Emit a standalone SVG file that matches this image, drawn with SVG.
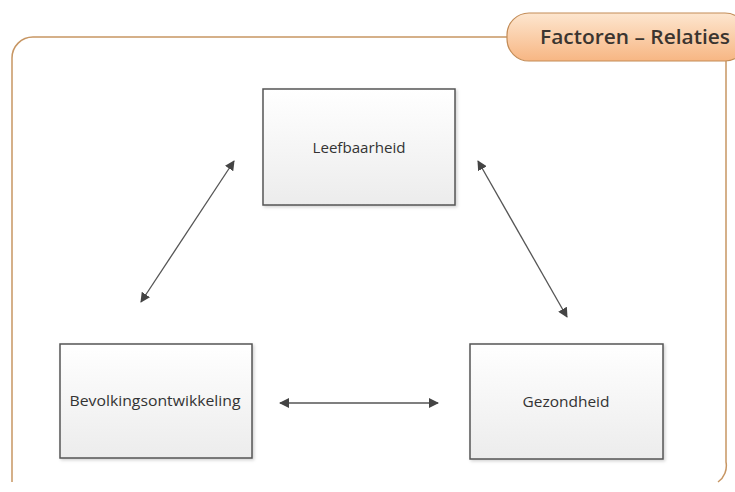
<svg xmlns="http://www.w3.org/2000/svg" width="735" height="492" viewBox="0 0 735 492">
<defs>
<linearGradient id="boxg" x1="0" y1="0" x2="0" y2="1">
<stop offset="0" stop-color="#ffffff"/>
<stop offset="1" stop-color="#ececec"/>
</linearGradient>
<linearGradient id="tabg" x1="0" y1="0" x2="0" y2="1">
<stop offset="0" stop-color="#fde6cf"/>
<stop offset="1" stop-color="#f7b683"/>
</linearGradient>
<marker id="ah" viewBox="0 0 10 10" refX="9" refY="5" markerWidth="10" markerHeight="10" markerUnits="userSpaceOnUse" orient="auto-start-reverse">
<path d="M0,0 L10,5 L0,10 Z" fill="#444"/>
</marker>
<filter id="sh" x="-10%" y="-10%" width="125%" height="125%">
<feDropShadow dx="1.5" dy="1.5" stdDeviation="1.5" flood-color="#000" flood-opacity="0.18"/>
</filter>
</defs>
<style>
.box{fill:url(#boxg);stroke:#555;stroke-width:1.5;filter:url(#sh)}
.lbl{font-family:"Open Sans","Liberation Sans",sans-serif;font-size:15px;fill:#333;text-anchor:middle}
.con{stroke:#555;stroke-width:1.3;fill:none;marker-start:url(#ah);marker-end:url(#ah)}
</style>
<rect width="735" height="492" fill="#fff"/>
<g id="frame">
<path d="M507,37 H33 A21,21 0 0 0 12,58 V482" fill="none" stroke="#c79663" stroke-width="1.5"/>
<path d="M726,61 V462 A20,20 0 0 1 718,482" fill="none" stroke="#c79663" stroke-width="1.5"/>
</g>
<g id="title">
<rect x="507" y="13" width="240" height="48" rx="22" fill="url(#tabg)" stroke="#c38c57" stroke-width="1.2"/>
<text x="540" y="44" font-family="Open Sans, Liberation Sans, sans-serif" font-size="19" font-weight="600" fill="#3b3530" textLength="190" lengthAdjust="spacingAndGlyphs">Factoren – Relaties</text>
</g>
<g id="leefbaarheid">
<rect class="box" x="263" y="89" width="192" height="116"/>
<text class="lbl" x="359" y="153" textLength="93" lengthAdjust="spacingAndGlyphs">Leefbaarheid</text>
</g>
<g id="bevolkingsontwikkeling">
<rect class="box" x="60" y="344" width="192" height="114"/>
<text class="lbl" x="155" y="406" textLength="171" lengthAdjust="spacingAndGlyphs">Bevolkingsontwikkeling</text>
</g>
<g id="gezondheid">
<rect class="box" x="470" y="344" width="193" height="115"/>
<text class="lbl" x="566" y="407" textLength="87" lengthAdjust="spacingAndGlyphs">Gezondheid</text>
</g>
<g id="connectors">
<line class="con" x1="141" y1="302" x2="234" y2="161"/>
<line class="con" x1="478" y1="161" x2="567" y2="317"/>
<line class="con" x1="280" y1="403" x2="438" y2="403"/>
</g>
</svg>
